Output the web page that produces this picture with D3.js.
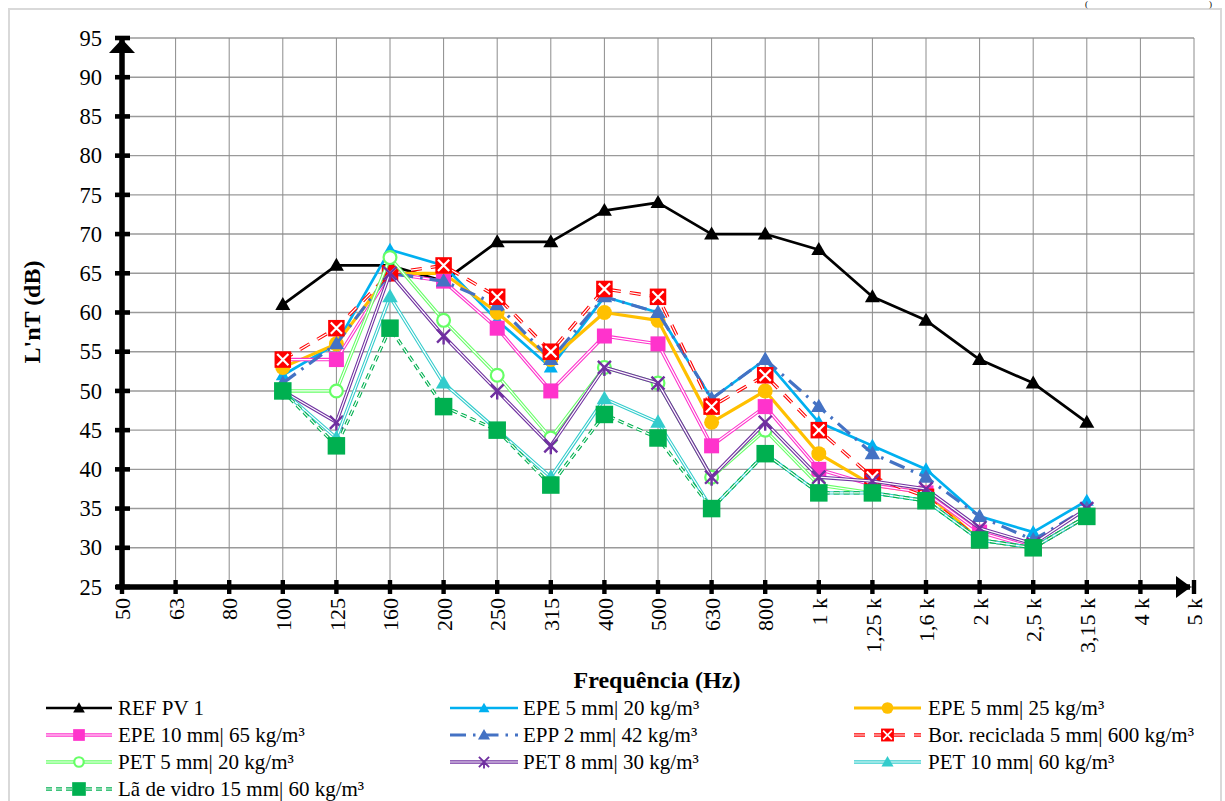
<!DOCTYPE html>
<html>
<head>
<meta charset="utf-8">
<script src="https://cdn.jsdelivr.net/npm/d3@7"></script>
<style>
  body { margin: 0; background: #fff; }
  svg { display: block; font-family: "Liberation Serif", "Times New Roman", serif; }
</style>
</head>
<body>
<svg id="chart" width="1225" height="801"></svg>
<script>
// Third-octave bands (Hz) on the category axis
const categories = ["50","63","80","100","125","160","200","250","315","400","500","630","800","1 k","1,25 k","1,6 k","2 k","2,5 k","3,15 k","4 k","5 k"];
// Bands that carry measurements (100 Hz to 3,15 kHz)
const measuredBands = categories.slice(3, 19);
const yTicks = [25, 30, 35, 40, 45, 50, 55, 60, 65, 70, 75, 80, 85, 90, 95];

// L'nT (dB) per band
const refPv1       = [61, 66, 66, 64, 69, 69, 73, 74, 70, 70, 68, 62, 59, 54, 51, 46];
const epe5mm20     = [52, 56, 68, 66, 59, 53, 62, 60, 49, 54, 46, 43, 40, 34, 32, 36];
const epe5mm25     = [53, 56, 65, 65, 60, 54, 60, 59, 46, 50, 42, 38, 37, 31, 30, 34];
const epe10mm65    = [54, 54, 65, 64, 58, 50, 57, 56, 43, 48, 40, 38, 37, 32, 30, 34];
const epp2mm42     = [51, 56, 65, 64, 61, 54, 62, 60, 49, 54, 48, 42, 39, 34, 31, 35];
const borReciclada = [54, 58, 65, 66, 62, 55, 63, 62, 48, 52, 45, 39, 36.5, 31, 30, 34];
const pet5mm20     = [50, 50, 67, 59, 52, 44, 53, 51, 39, 45, 38, 37, 36, 31, 30, 34];
const pet8mm30     = [50, 46, 65, 57, 50, 43, 53, 51, 39, 46, 39, 38.5, 37.5, 32.5, 30.5, 35];
const pet10mm60    = [50, 44, 62, 51, 45, 39, 49, 46, 35, 42, 37, 37, 36, 31, 30, 34];
const laVidro15mm  = [50, 43, 58, 48, 45, 38, 47, 44, 35, 42, 37, 37, 36, 31, 30, 34];

const seriesNames = [
  "REF PV 1", "EPE 5 mm| 20 kg/m³", "EPE 5 mm| 25 kg/m³",
  "EPE 10 mm| 65 kg/m³", "EPP 2 mm| 42 kg/m³", "Bor. reciclada 5 mm| 600 kg/m³",
  "PET 5 mm| 20 kg/m³", "PET 8 mm| 30 kg/m³", "PET 10 mm| 60 kg/m³",
  "Lã de vidro 15 mm| 60 kg/m³"
];

const series = [
  { name: seriesNames[0], values: refPv1,       color: "#000000", width: 2.7, marker: "triangle", size: 15 },
  { name: seriesNames[1], values: epe5mm20,     color: "#00B0F0", width: 2.7, marker: "triangle", size: 14 },
  { name: seriesNames[2], values: epe5mm25,     color: "#FFC000", width: 3.2, marker: "circle", size: 15 },
  { name: seriesNames[3], values: epe10mm65,    color: "#FF33CC", width: 3.4, double: true, marker: "square", size: 15 },
  { name: seriesNames[4], values: epp2mm42,     color: "#4472C4", width: 3.2, dash: "16,7,2.5,7", marker: "triangle", size: 15.5 },
  { name: seriesNames[5], values: borReciclada, color: "#FF0000", width: 3.4, double: true, dash: "11,9", marker: "boxX", size: 16.5 },
  { name: seriesNames[6], values: pet5mm20,     color: "#66FF66", width: 3.4, double: true, marker: "circleOpen", size: 15 },
  { name: seriesNames[7], values: pet8mm30,     color: "#7030A0", width: 3.4, double: true, marker: "star", size: 15 },
  { name: seriesNames[8], values: pet10mm60,    color: "#33CCCC", width: 3.4, double: true, marker: "triangle", size: 15.5 },
  { name: seriesNames[9], values: laVidro15mm,  color: "#00B050", width: 3.4, double: true, dash: "6,4", marker: "square", size: 17.5 }
];

const svg = d3.select("#chart");
const plot = { left: 122, right: 1194, top: 38, bottom: 587 };

const x = d3.scalePoint().domain(categories).range([plot.left, plot.right]);
const y = d3.scaleLinear().domain([25, 95]).range([plot.bottom, plot.top]);

// Outer frame
svg.append("rect").attr("x", 9).attr("y", 9).attr("width", 1212).attr("height", 810)
  .attr("fill", "none").attr("stroke", "#d9d9d9").attr("stroke-width", 2);

// Small bracket marks above the frame
svg.append("text").attr("x", 1085).attr("y", 7).attr("font-size", 9).attr("fill", "#000").text("(");
svg.append("text").attr("x", 1209).attr("y", 7).attr("font-size", 9).attr("fill", "#000").text(")");

// Gridlines
const grid = svg.append("g");
grid.selectAll("line.h").data(yTicks).join("line")
  .attr("x1", plot.left).attr("x2", plot.right)
  .attr("y1", d => y(d)).attr("y2", d => y(d))
  .attr("stroke", "#9a9a9a").attr("stroke-width", 1.4);
grid.selectAll("line.v").data(categories).join("line")
  .attr("x1", d => x(d)).attr("x2", d => x(d))
  .attr("y1", plot.top).attr("y2", plot.bottom)
  .attr("stroke", "#8c8c8c").attr("stroke-width", 1);

// Y axis (thick line, block ticks, arrow at top)
const yAxis = d3.axisLeft(y).tickValues(yTicks).tickSize(0).tickPadding(20);
const gy = svg.append("g").attr("transform", `translate(${plot.left},0)`).call(yAxis);
gy.select(".domain").remove();
gy.selectAll("text").attr("font-family", "Liberation Serif").attr("font-size", 22.5).attr("fill", "#000");
svg.append("line").attr("x1", plot.left).attr("x2", plot.left)
  .attr("y1", plot.bottom + 2).attr("y2", plot.top)
  .attr("stroke", "#000").attr("stroke-width", 5.5);
svg.append("g").selectAll("rect").data(yTicks).join("rect")
  .attr("x", plot.left - 7).attr("y", d => y(d) - 2.3).attr("width", 15).attr("height", 4.6).attr("fill", "#000");
svg.append("path")
  .attr("d", `M${plot.left},${plot.top + 1} L${plot.left + 13},${plot.top + 15} L${plot.left - 13},${plot.top + 15} Z`)
  .attr("fill", "#000");

// X axis (thick line, block ticks, arrow at right)
const xAxis = d3.axisBottom(x).tickSize(0).tickPadding(0);
const gx = svg.append("g").attr("transform", `translate(0,${plot.bottom})`).call(xAxis);
gx.select(".domain").remove();
gx.selectAll("text")
  .attr("font-family", "Liberation Serif").attr("font-size", 22).attr("fill", "#000")
  .attr("text-anchor", "end").attr("dy", "0.35em")
  .attr("transform", "translate(0,11) rotate(-90)");
svg.append("line").attr("x1", plot.left - 6).attr("x2", plot.right - 4)
  .attr("y1", plot.bottom).attr("y2", plot.bottom)
  .attr("stroke", "#000").attr("stroke-width", 5.5);
svg.append("g").selectAll("rect").data(categories).join("rect")
  .attr("x", d => x(d) - 2.2).attr("y", plot.bottom - 7).attr("width", 4.4).attr("height", 14).attr("fill", "#000");
svg.append("path")
  .attr("d", `M${plot.right - 3},${plot.bottom} L${plot.right - 18},${plot.bottom - 11} L${plot.right - 18},${plot.bottom + 11} Z`)
  .attr("fill", "#000");

// Axis titles
svg.append("text").attr("x", 657).attr("y", 688).attr("text-anchor", "middle")
  .attr("font-size", 24).attr("font-weight", "bold").text("Frequência (Hz)");
svg.append("text").attr("transform", "translate(40,312) rotate(-90)").attr("text-anchor", "middle")
  .attr("font-size", 24).attr("font-weight", "bold").text("L'nT (dB)");

// Stroke helpers
function strokePath(g, d, s) {
  g.append("path").attr("d", d).attr("fill", "none")
    .attr("stroke", s.color).attr("stroke-width", s.width)
    .attr("stroke-dasharray", s.dash || null).attr("stroke-linejoin", "round");
  if (s.double) {
    g.append("path").attr("d", d).attr("fill", "none")
      .attr("stroke", "#fff").attr("stroke-width", s.width * 0.36)
      .attr("stroke-dasharray", s.dash || null).attr("stroke-linejoin", "round");
  }
}

function drawMarker(g, cx, cy, s, k) {
  const m = s.marker, d = s.size * k, h = d / 2;
  if (m === "triangle") {
    const area = Math.sqrt(3) / 4 * d * d;
    g.append("path").attr("d", d3.symbol(d3.symbolTriangle, area)())
      .attr("transform", `translate(${cx},${cy + 1})`).attr("fill", s.color);
  } else if (m === "circle") {
    g.append("circle").attr("cx", cx).attr("cy", cy).attr("r", h).attr("fill", s.color);
  } else if (m === "circleOpen") {
    g.append("circle").attr("cx", cx).attr("cy", cy).attr("r", h - 1.1)
      .attr("fill", "#fff").attr("stroke", s.color).attr("stroke-width", 2.2);
  } else if (m === "square") {
    g.append("rect").attr("x", cx - h).attr("y", cy - h).attr("width", d).attr("height", d)
      .attr("fill", s.color);
  } else if (m === "boxX") {
    const c = h * 0.68;
    g.append("rect").attr("x", cx - h).attr("y", cy - h).attr("width", d).attr("height", d)
      .attr("fill", s.color);
    g.append("path").attr("d", `M${cx - c},${cy - c}L${cx + c},${cy + c}M${cx - c},${cy + c}L${cx + c},${cy - c}`)
      .attr("stroke", "#fff").attr("stroke-width", 2.2 * k);
  } else if (m === "star") {
    const c = h * 0.87;
    g.append("path")
      .attr("d", `M${cx - c},${cy - c}L${cx + c},${cy + c}M${cx - c},${cy + c}L${cx + c},${cy - c}M${cx},${cy}L${cx},${cy + c * 1.3}`)
      .attr("stroke", s.color).attr("stroke-width", 2.4 * k).attr("fill", "none");
  }
}

// Series lines and markers
const line = d3.line().x(d => x(d.band)).y(d => y(d.value));
const seriesLayer = svg.append("g");
series.forEach(s => {
  const pts = measuredBands.map((band, i) => ({ band, value: s.values[i] }));
  const g = seriesLayer.append("g");
  strokePath(g, line(pts), s);
  pts.forEach(p => drawMarker(g, x(p.band), y(p.value), s, 1));
});

// Legend, three columns
const legendCols = [
  { x1: 46, x2: 112, tx: 118 },
  { x1: 450, x2: 518, tx: 523 },
  { x1: 854, x2: 921, tx: 928 }
];
const legendRows = [708, 735, 762, 789];
const legend = svg.append("g");
series.forEach((s, i) => {
  const col = legendCols[i % 3], ry = legendRows[Math.floor(i / 3)];
  const g = legend.append("g");
  strokePath(g, `M${col.x1},${ry}L${col.x2},${ry}`, s);
  drawMarker(g, (col.x1 + col.x2) / 2, ry, s, 0.78);
  g.append("text").attr("x", col.tx).attr("y", ry).attr("dy", "0.33em")
    .attr("font-size", 21).attr("fill", "#000").text(s.name);
});
</script>
</body>
</html>
